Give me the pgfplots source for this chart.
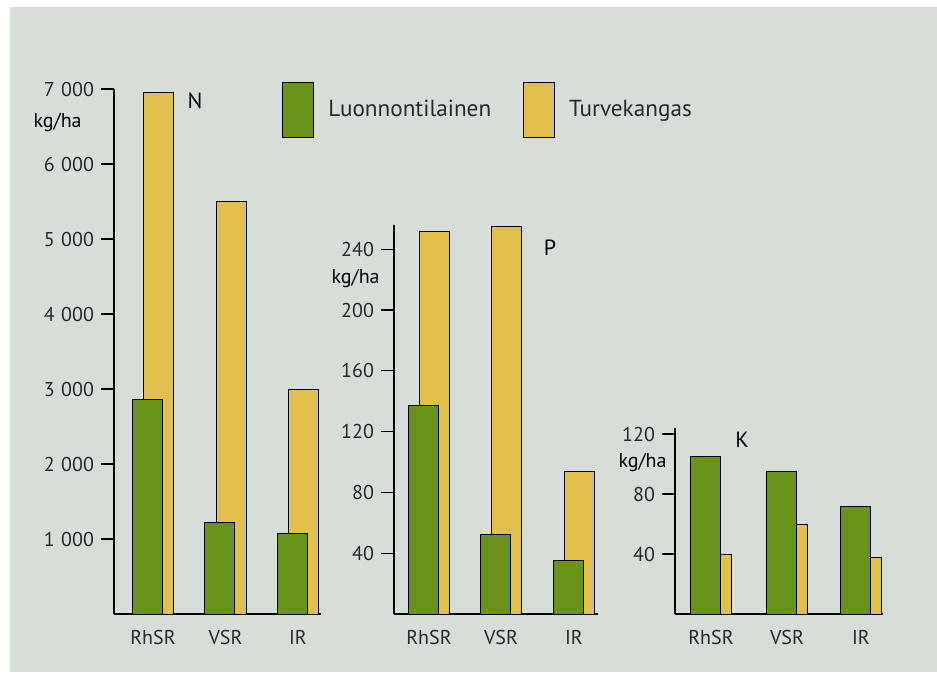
\documentclass[border=0pt]{standalone}
\usepackage{fontspec}
\setmainfont{PT Sans}
\usepackage{pgfplots}
\pgfplotsset{compat=1.18}
\definecolor{bgc}{RGB}{215,222,215}
\definecolor{gr}{RGB}{104,148,28}
\definecolor{ye}{RGB}{226,192,78}
\definecolor{txt}{RGB}{40,40,40}
\newcommand{\ts}{\hspace{0.32em}}

\tikzset{
  unitlab/.style={anchor=east, inner sep=0pt, font=\fontsize{10}{12}\selectfont, text=black},
  panlab/.style={font=\fontsize{11}{13}\selectfont, text=black},
}
\pgfplotsset{
  panel/.style={
    scale only axis, clip=false,
    axis lines=left, axis line style={-, line width=0.6pt, black},
    xmin=0, ymin=0,
    tick align=outside, major tick length=6.5pt,
    x tick style={draw=none},
    y tick style={line width=0.6pt, black},
    yticklabel style={font=\fontsize{10}{12}\selectfont, text=txt},
    xticklabel style={font=\fontsize{10}{12}\selectfont, text=txt, yshift=2pt},
    xticklabels={RhSR,VSR,IR},
    /pgf/number format/assume math mode=true,
  },
  lbar/.style={ybar, fill=gr, draw=black, line width=0.5pt, bar width=15pt, bar shift=-2.9pt, forget plot},
  tbar/.style={ybar, fill=ye, draw=black, line width=0.5pt, bar width=15pt, bar shift=2.9pt, forget plot},
}

\begin{document}
\begin{tikzpicture}[x=0.5pt,y=0.5pt]
\useasboundingbox (0,0) rectangle (937,677);
\fill[white] (0,0) rectangle (937,677);
\fill[bgc] (10,5) rectangle (937,670);

% ---------- N ----------
\begin{axis}[panel, at={(57pt,31.5pt)}, anchor=south west,
  width=103.5pt, height=262.5pt, xmax=207, ymax=7000,
  xtick={39,111.5,184},
  ytick={1000,2000,3000,4000,5000,6000,7000},
  yticklabels={1\ts000,2\ts000,3\ts000,4\ts000,5\ts000,6\ts000,7\ts000},
  legend style={draw=none, fill=none, at={(0.812,1.014)}, anchor=north west,
    legend columns=2, font=\fontsize{11.6}{13}\selectfont, text=txt, inner sep=0pt,
    /tikz/every odd column/.append style={column sep=5pt},
    /tikz/every even column/.append style={column sep=14pt}},
]
\addplot[tbar] coordinates {(39,6950) (111.5,5500) (184,3000)};
\addplot[lbar] coordinates {(39,2860) (111.5,1220) (184,1080)};
\addlegendimage{legend image code/.code={\draw[fill=gr,draw=black,line width=0.5pt] (0pt,-13.75pt) rectangle (15.5pt,13.75pt);}}
\addlegendentry{Luonnontilainen}
\addlegendimage{legend image code/.code={\draw[fill=ye,draw=black,line width=0.5pt] (0pt,-13.75pt) rectangle (15.5pt,13.75pt);}}
\addlegendentry{Turvekangas}
\node[panlab] at (axis cs:81,6840) {N};
\node[unitlab] at (axis cs:-32,6547) {kg/ha};
\end{axis}

% ---------- P ----------
\begin{axis}[panel, at={(197pt,31.5pt)}, anchor=south west,
  width=102pt, height=194.5pt, xmax=204, ymax=256,
  xtick={35,107,180},
  ytick={40,80,120,160,200,240},
]
\addplot[tbar] coordinates {(35,252) (107,255) (180,94)};
\addplot[lbar] coordinates {(35,137) (107,52) (180,35)};
\node[panlab] at (axis cs:156,241) {P};
\node[unitlab] at (axis cs:-14,221) {kg/ha};
\end{axis}

% ---------- K ----------
\begin{axis}[panel, at={(337.5pt,31.5pt)}, anchor=south west,
  width=104pt, height=93pt, xmax=208, ymax=124,
  xtick={36,112,186},
  ytick={40,80,120},
]
\addplot[tbar] coordinates {(36,40) (112,60) (186,38)};
\addplot[lbar] coordinates {(36,105) (112,95) (186,72)};
\node[panlab] at (axis cs:67,116) {K};
\node[unitlab] at (axis cs:-8,101) {kg/ha};
\end{axis}
\end{tikzpicture}
\end{document}
